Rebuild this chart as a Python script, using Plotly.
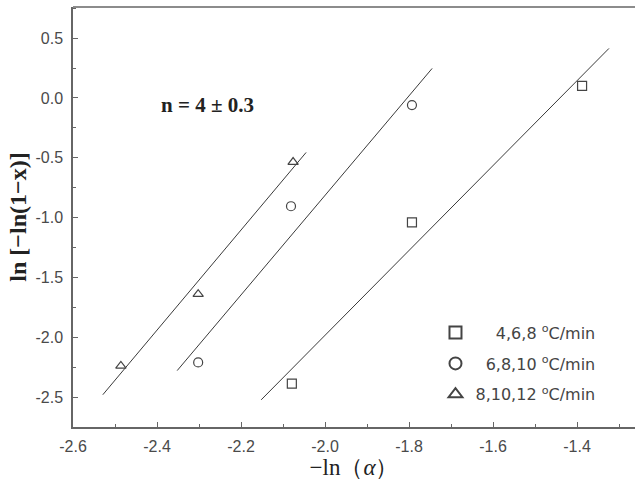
import numpy as np
import plotly.graph_objects as go

# Data
series_names = ["\u2007\u20074,6,8 <sup>o</sup>C/min", "\u20076,8,10 <sup>o</sup>C/min", "8,10,12 <sup>o</sup>C/min"]
symbols = ["square-open", "circle-open", "triangle-up-open"]

sq_x = [-2.079, -1.793, -1.388]
sq_y = [-2.387, -1.040, 0.100]
ci_x = [-2.302, -2.081, -1.793]
ci_y = [-2.210, -0.905, -0.060]
tr_x = [-2.486, -2.302, -2.076]
tr_y = [-2.240, -1.640, -0.536]

# x extents of fitted lines
sq_fit_x = [-2.152, -1.324]
ci_fit_x = [-2.352, -1.745]
tr_fit_x = [-2.529, -2.045]

xs = [sq_x, ci_x, tr_x]
ys = [sq_y, ci_y, tr_y]
fit_xs = [sq_fit_x, ci_fit_x, tr_fit_x]

fig = go.Figure()

for x, y, fx in zip(xs, ys, fit_xs):
    k, b = np.polyfit(x, y, 1)
    fxa = np.array(fx)
    fig.add_trace(go.Scatter(x=fxa, y=k * fxa + b, mode="lines",
                             line=dict(color="#3a3a3a", width=1),
                             showlegend=False, hoverinfo="skip"))

for i, (x, y, name, sym) in enumerate(zip(xs, ys, series_names, symbols)):
    fig.add_trace(go.Scatter(x=x, y=y, mode="markers", name=name, legendgroup=f"g{i}",
                             marker=dict(symbol=sym, size=9,
                                         color="#444444",
                                         line=dict(color="#444444", width=1.2))))

fig.add_annotation(x=-2.279, y=-0.06, text="<b>n = 4 ± 0.3</b>", showarrow=False,
                   font=dict(family="Liberation Serif", size=21, color="#222"))

tick_font = dict(family="Liberation Sans", size=16, color="#4a4a4a")
axis_common = dict(showline=True, linecolor="#666666", linewidth=1.5, mirror=False,
                   ticks="inside", ticklen=5, tickcolor="#666666", tickwidth=1.2,
                   showgrid=False, zeroline=False, tickfont=tick_font)

fig.update_xaxes(range=[-2.6, -1.262], tickvals=[-2.6, -2.4, -2.2, -2.0, -1.8, -1.6, -1.4],
                 ticktext=["-2.6", "-2.4", "-2.2", "-2.0", "-1.8", "-1.6", "-1.4"],
                 minor=dict(dtick=0.1, tick0=-2.6, ticks="inside", ticklen=3, tickcolor="#666666"),
                 ticklabelstandoff=4,
                 title=dict(text="−ln（<i>α</i>）", font=dict(family="Liberation Serif", size=23, color="#222"),
                            standoff=2),
                 **axis_common)
fig.update_yaxes(range=[-2.75, 0.76], tickvals=[-2.5, -2.0, -1.5, -1.0, -0.5, 0.0, 0.5],
                 ticktext=["-2.5", "-2.0", "-1.5", "-1.0", "-0.5", "0.0", "0.5"],
                 minor=dict(dtick=0.25, tick0=0, ticks="inside", ticklen=3, tickcolor="#666666"),
                 ticklabelstandoff=5,
                 title=dict(text="<b>ln [−ln(1−x)]</b>", font=dict(family="Liberation Serif", size=24, color="#222"),
                            standoff=2),
                 **axis_common)

# top border line
fig.add_shape(type="line", xref="paper", yref="paper", x0=0, x1=1, y0=1, y1=1,
              line=dict(color="#666666", width=1.5))

fig.update_layout(
    width=635, height=480,
    margin=dict(l=73, r=0, t=7, b=53),
    paper_bgcolor="white", plot_bgcolor="white",
    legend=dict(x=0.645, y=0.265, xanchor="left", yanchor="top",
                font=dict(family="DejaVu Sans", size=16, color="#444444"),
                bgcolor="rgba(0,0,0,0)", tracegroupgap=7, itemsizing="constant"),
)

fig.write_html("out.html")
